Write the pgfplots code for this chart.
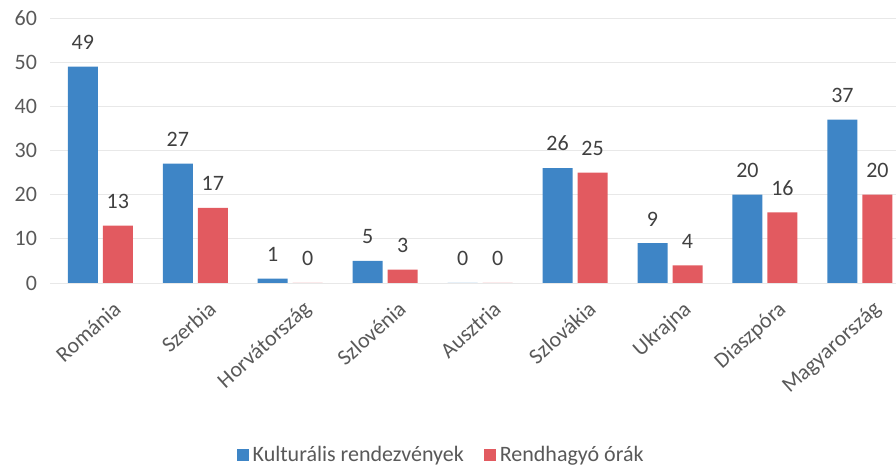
\documentclass[border=0pt]{standalone}
\usepackage{pgfplots}
\pgfplotsset{compat=1.18}
\usepackage{fontspec}
\setmainfont{Carlito}
\definecolor{cblue}{RGB}{62,133,198}
\definecolor{cred}{RGB}{226,90,96}
\definecolor{tgray}{RGB}{89,89,89}
\definecolor{ngray}{RGB}{64,64,64}
\begin{document}
\begin{tikzpicture}
\begin{axis}[
  at={(25pt,93.5pt)}, anchor=south west,
  scale only axis, width=423pt, height=132.5pt,
  xmin=-0.53, xmax=8.38, ymin=0, ymax=60,
  ybar=2.5pt, bar width=15pt,
  ytick={0,10,...,60},
  xtick={0,...,8},
  xticklabels={Románia,Szerbia,Horvátország,Szlovénia,Ausztria,Szlovákia,Ukrajna,Diaszpóra,Magyarország},
  xticklabel style={rotate=42, anchor=north east, font=\fontsize{11}{13}\selectfont, text=tgray, inner sep=1pt, yshift=-9pt, xshift=0pt},
  yticklabel style={font=\fontsize{11}{13}\selectfont, text=tgray, xshift=-3pt},
  /pgf/number format/assume math mode=true,
  axis line style={draw=none},
  major tick length=0pt,
  ymajorgrids, grid style={draw=black!9},
  nodes near coords,
  every node near coord/.append style={font=\fontsize{11}{13}\selectfont, text=ngray, yshift=5pt},
  legend style={at={(0.4635,-0.649)}, anchor=center, draw=none, legend columns=2,
    font=\fontsize{11}{13}\selectfont, text=tgray,
    /tikz/every even column/.append style={column sep=8pt}},
  legend image code/.code={\fill[#1] (0pt,-3pt) rectangle (6pt,3pt);},
]
\addplot[fill=cblue, draw=none] coordinates {(0,49) (1,27) (2,1) (3,5) (4,0) (5,26) (6,9) (7,20) (8,37)};
\addplot[fill=cred, draw=none] coordinates {(0,13) (1,17) (2,0) (3,3) (4,0) (5,25) (6,4) (7,16) (8,20)};
\legend{Kulturális rendezvények, Rendhagyó órák}
\end{axis}
\pgfresetboundingbox
\path[use as bounding box] (0,0) rectangle (448pt,235pt);
\end{tikzpicture}
\end{document}
